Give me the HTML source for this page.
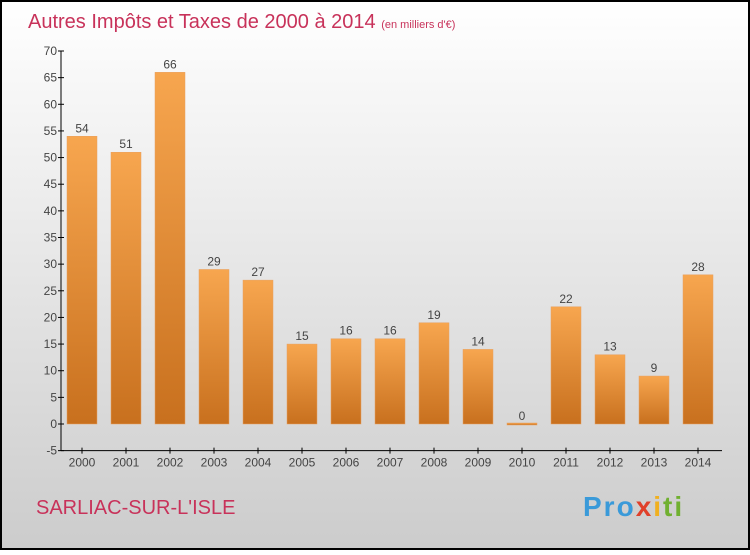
<!DOCTYPE html>
<html><head><meta charset="utf-8"><style>
body{margin:0;width:750px;height:550px;overflow:hidden;font-family:"Liberation Sans",sans-serif}
</style></head><body>
<svg width="750" height="550" xmlns="http://www.w3.org/2000/svg">
<defs>
<linearGradient id="bg" x1="0" y1="0" x2="0" y2="1"><stop offset="0" stop-color="#ffffff"/><stop offset="1" stop-color="#cccccc"/></linearGradient>
<linearGradient id="bar" x1="0" y1="0" x2="0" y2="1"><stop offset="0" stop-color="#f7a64f"/><stop offset="1" stop-color="#c8701e"/></linearGradient>
</defs>
<rect x="1" y="1" width="748" height="548" fill="url(#bg)" stroke="#000" stroke-width="2"/>
<text x="28" y="28" font-size="20" fill="#c8325a">Autres Impôts et Taxes de 2000 à 2014 <tspan font-size="11">(en milliers d'€)</tspan></text>
<text x="36" y="514" font-size="20" fill="#c8325a">SARLIAC-SUR-L'ISLE</text>
<text x="583" y="516" font-size="28" font-weight="bold" letter-spacing="2" fill="#3a9ad9">Pro<tspan fill="#e0402a">x</tspan><tspan fill="#f0b020">i</tspan><tspan fill="#70b030">ti</tspan></text>
<g id="plot"></g>
</svg>
<script>
const years=["2000","2001","2002","2003","2004","2005","2006","2007","2008","2009","2010","2011","2012","2013","2014"];
const values=[54,51,66,29,27,15,16,16,19,14,0,22,13,9,28];
const yTicks=[-5,0,5,10,15,20,25,30,35,40,45,50,55,60,65,70];
const NS="http://www.w3.org/2000/svg";
const g=document.getElementById('plot');
const y=v=>424-(v)*(373/70);
const x=i=>82+i*44;
function mk(t,a){const e=document.createElementNS(NS,t);for(const k in a)e.setAttribute(k,a[k]);g.appendChild(e);return e;}
let ax=mk('line',{x1:61,y1:y(70),x2:61,y2:y(-5),stroke:'#000'});


let xa=mk('line',{x1:61,y1:y(-5),x2:722,y2:y(-5),stroke:'#000'});


yTicks.forEach(v=>{
 let t=mk('line',{x1:58,x2:64,y1:y(v),y2:y(v),stroke:'#000'});
 
 
 let l=mk('text',{x:57,y:y(v)+4,'font-size':12,'text-anchor':'end',fill:'#444'});
 l.textContent=v;
 
 
});
values.forEach((v,i)=>{
 const top=y(Math.max(v,0)),h=Math.max(y(0)-top,1);
 let r=mk('rect',{x:x(i)-15,y:v===0?y(0)-1:top,width:30,height:v===0?2:h,fill:'url(#bar)',stroke:'#e8a060','stroke-width':0.5});
 
 
 let vl=mk('text',{x:x(i),y:(v===0?y(0):top)-4,'font-size':12,'text-anchor':'middle',fill:'#444'});
 vl.textContent=v;
 
 
 let t=mk('line',{x1:x(i),x2:x(i),y1:y(-5)-3,y2:y(-5)+3,stroke:'#000'});
 
 
 let xl=mk('text',{x:x(i),y:y(-5)+16,'font-size':12,'text-anchor':'middle',fill:'#444'});
 xl.textContent=years[i];
 
 
});
</script>
</body></html>
